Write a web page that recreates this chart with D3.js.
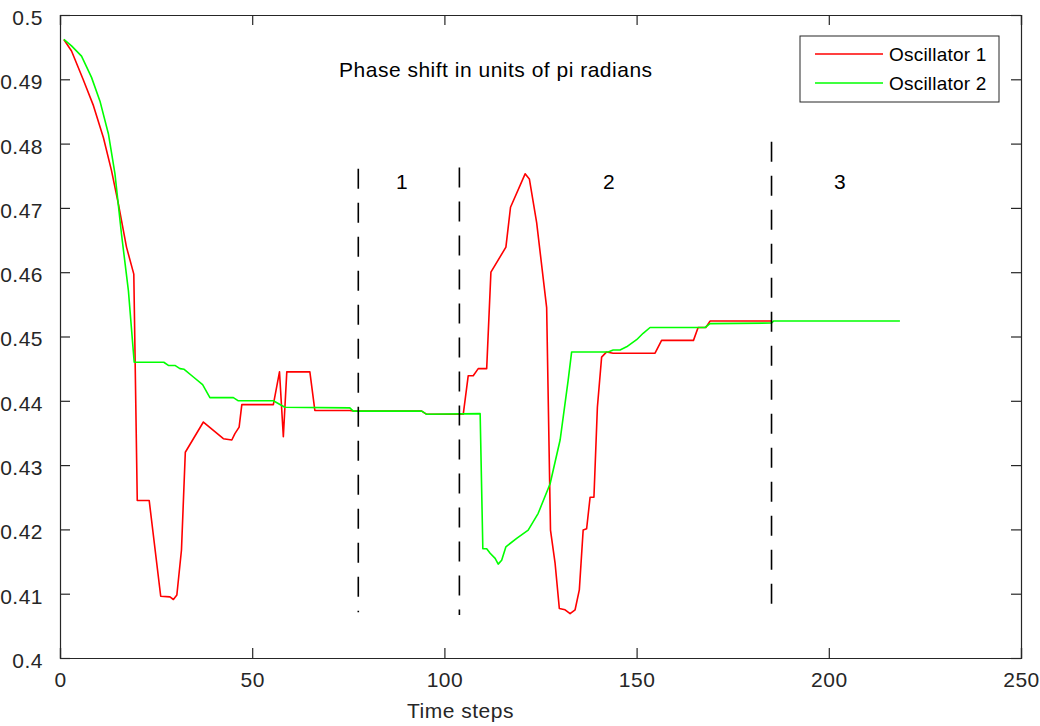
<!DOCTYPE html>
<html>
<head>
<meta charset="utf-8">
<script src="https://cdn.jsdelivr.net/npm/d3@7"></script>
<style>
  html, body { margin: 0; padding: 0; background: #fff; }
  text { font-family: "Liberation Sans", Arial, sans-serif; }
</style>
</head>
<body>
<svg id="chart" width="1040" height="726"></svg>
<script>
// ---- data ----
const osc1T = [1, 3, 6, 8.7, 11.3, 13.4, 15.2, 17.3, 19.2, 20.1, 23.2, 26.2, 28.6, 29.5, 30.4, 31.6, 32.6, 37.3, 42.5, 44.7, 45.5, 46.6, 47.3, 55.5, 57.1, 58.1, 59, 65, 66.3, 75.4, 76.3, 94.1, 95.4, 104.9, 106.2, 107.5, 108.8, 111, 112.1, 116, 117.2, 121, 122.1, 124, 126.6, 127.6, 128.8, 129.9, 131.4, 132.7, 134, 135.1, 136.1, 137, 137.9, 138.9, 139.8, 140.9, 142.2, 143.9, 154.8, 156.5, 164.8, 166, 168, 169.1, 185.1];
const osc1V = [0.4962, 0.4944, 0.4900, 0.4859, 0.4809, 0.4758, 0.4706, 0.4639, 0.4597, 0.4245, 0.4245, 0.4096, 0.4095, 0.4091, 0.4098, 0.4168, 0.4320, 0.4367, 0.4341, 0.4339, 0.4349, 0.4359, 0.4394, 0.4394, 0.4445, 0.4344, 0.4445, 0.4445, 0.4385, 0.4385, 0.4384, 0.4384, 0.4379, 0.4379, 0.4439, 0.4439, 0.4450, 0.4450, 0.4600, 0.4639, 0.4701, 0.4753, 0.4745, 0.4677, 0.4545, 0.4199, 0.4147, 0.4077, 0.4075, 0.4069, 0.4075, 0.4106, 0.4199, 0.4201, 0.4250, 0.4250, 0.4390, 0.4468, 0.4476, 0.4474, 0.4474, 0.4494, 0.4494, 0.4514, 0.4514, 0.4524, 0.4524];

const osc2T = [1, 3, 5.6, 8.2, 10.4, 12.6, 14.3, 16, 17.8, 19.3, 27, 28.2, 29.9, 31.2, 32.3, 34.7, 37.1, 39, 45.1, 46.4, 55.5, 58.5, 75.4, 76.3, 94.1, 95.4, 109.3, 110, 111, 111.9, 113.2, 114, 114.9, 116, 118.8, 121.8, 124.4, 127.5, 130.1, 132.2, 133.1, 142.6, 143.9, 145.7, 147.4, 150, 151.7, 153.5, 167.8, 169.1, 185.1, 185.6, 218.5];
const osc2V = [0.4962, 0.4952, 0.4936, 0.4903, 0.4866, 0.4815, 0.4753, 0.4659, 0.4571, 0.4460, 0.4460, 0.4455, 0.4455, 0.4450, 0.4449, 0.4437, 0.4425, 0.4405, 0.4405, 0.4400, 0.4400, 0.4390, 0.4389, 0.4384, 0.4384, 0.4379, 0.4380, 0.4170, 0.4170, 0.4163, 0.4155, 0.4146, 0.4152, 0.4173, 0.4186, 0.4199, 0.4225, 0.4271, 0.4339, 0.4432, 0.4476, 0.4476, 0.4479, 0.4479, 0.4484, 0.4495, 0.4505, 0.4514, 0.4514, 0.4520, 0.4521, 0.4524, 0.4524];

const seriesNames = ["Oscillator 1", "Oscillator 2"];
const seriesColors = ["#ff0000", "#00ff00"];

const xTicks = [0, 50, 100, 150, 200, 250];
const yTicks = [0.4, 0.41, 0.42, 0.43, 0.44, 0.45, 0.46, 0.47, 0.48, 0.49, 0.5];

const dividerX = [77.6, 103.9, 185.1];
const dividerTop = [0.4761, 0.4763, 0.4803];
const dividerBottom = [0.4071, 0.4067, 0.4075];

const regionLabels = ["1", "2", "3"];
const regionLabelX = [88.9, 142.8, 202.9];
const regionLabelY = [0.4741, 0.4741, 0.4741];

const titleText = "Phase shift in units of pi radians";
const titleX = 72.6, titleY = 0.4916;
const xLabel = "Time steps";

// ---- layout ----
const svg = d3.select("#chart");
const L = 60, R = 1021, T = 15, B = 658;
const x = d3.scaleLinear().domain([0, 250]).range([L, R]);
const y = d3.scaleLinear().domain([0.4, 0.5]).range([B, T]);
const axisColor = "#262626";
const font = "Liberation Sans, Arial, sans-serif";

svg.append("rect").attr("width", 1040).attr("height", 726).attr("fill", "#fff");

svg.append("defs").append("clipPath").attr("id", "clip")
  .append("rect").attr("x", L).attr("y", T).attr("width", R - L).attr("height", B - T);

// axes (inward ticks on all sides)
const tickLen = 10;
const gx = svg.append("g").attr("transform", `translate(0,${B})`)
  .call(d3.axisBottom(x).tickValues(xTicks).tickSize(-tickLen).tickPadding(14).tickFormat(d3.format("d")));
const gxt = svg.append("g").attr("transform", `translate(0,${T})`)
  .call(d3.axisTop(x).tickValues(xTicks).tickSize(-tickLen).tickFormat(""));
const gy = svg.append("g").attr("transform", `translate(${L},0)`)
  .call(d3.axisLeft(y).tickValues(yTicks).tickSize(-tickLen).tickPadding(17).tickFormat(d => d === 0.4 ? "0.4" : d === 0.5 ? "0.5" : d3.format(".2f")(d)));
const gyr = svg.append("g").attr("transform", `translate(${R},0)`)
  .call(d3.axisRight(y).tickValues(yTicks).tickSize(-tickLen).tickFormat(""));

[gx, gxt, gy, gyr].forEach(g => {
  g.select(".domain").attr("stroke", axisColor).attr("stroke-width", 1.2);
  g.selectAll(".tick line").attr("stroke", axisColor).attr("stroke-width", 1.2);
  g.selectAll(".tick text").attr("fill", axisColor).style("font-family", font)
    .style("font-size", "21px").style("letter-spacing", "0.5px");
});
gy.selectAll(".tick text").attr("dy", "0.45em");
gx.selectAll(".tick text").attr("dy", "0.71em");

// x label
svg.append("text").attr("x", (L + R) / 2 - 80).attr("y", 718)
  .attr("text-anchor", "middle").attr("fill", axisColor)
  .style("font-size", "21px").style("letter-spacing", "0.5px").text(xLabel);

// lines
const plot = svg.append("g").attr("clip-path", "url(#clip)");
const line = d3.line().x(d => x(d[0])).y(d => y(d[1]));
const data1 = osc1T.map((t, i) => [t, osc1V[i]]);
const data2 = osc2T.map((t, i) => [t, osc2V[i]]);
[data1, data2].forEach((d, i) => {
  plot.append("path").datum(d).attr("d", line)
    .attr("fill", "none").attr("stroke", seriesColors[i])
    .attr("stroke-width", 1.6).attr("stroke-linejoin", "round");
});

// dashed dividers
dividerX.forEach((dx, i) => {
  plot.append("line")
    .attr("x1", x(dx)).attr("x2", x(dx))
    .attr("y1", y(dividerTop[i])).attr("y2", y(dividerBottom[i]))
    .attr("stroke", "#000").attr("stroke-width", 1.6)
    .attr("stroke-dasharray", "20,14");
});

// region labels
regionLabels.forEach((lab, i) => {
  svg.append("text").attr("x", x(regionLabelX[i])).attr("y", y(regionLabelY[i]))
    .attr("text-anchor", "middle").attr("dy", "0.36em").attr("fill", "#000")
    .style("font-size", "21px").text(lab);
});

// title annotation
svg.append("text").attr("x", x(titleX)).attr("y", y(titleY))
  .attr("dy", "0.36em").attr("fill", "#000")
  .style("font-size", "21px").style("letter-spacing", "0.5px").text(titleText);

// legend
const lg = svg.append("g");
lg.append("rect").attr("x", 800).attr("y", 36).attr("width", 199).attr("height", 66)
  .attr("fill", "#fff").attr("stroke", axisColor).attr("stroke-width", 1);
seriesNames.forEach((n, i) => {
  const ly = 54 + i * 29;
  lg.append("line").attr("x1", 815).attr("x2", 883).attr("y1", ly).attr("y2", ly)
    .attr("stroke", seriesColors[i]).attr("stroke-width", 1.6);
  lg.append("text").attr("x", 889).attr("y", ly).attr("dy", "0.36em")
    .attr("fill", "#000").style("font-size", "19px").style("letter-spacing", "0.2px").text(n);
});
</script>
</body>
</html>
